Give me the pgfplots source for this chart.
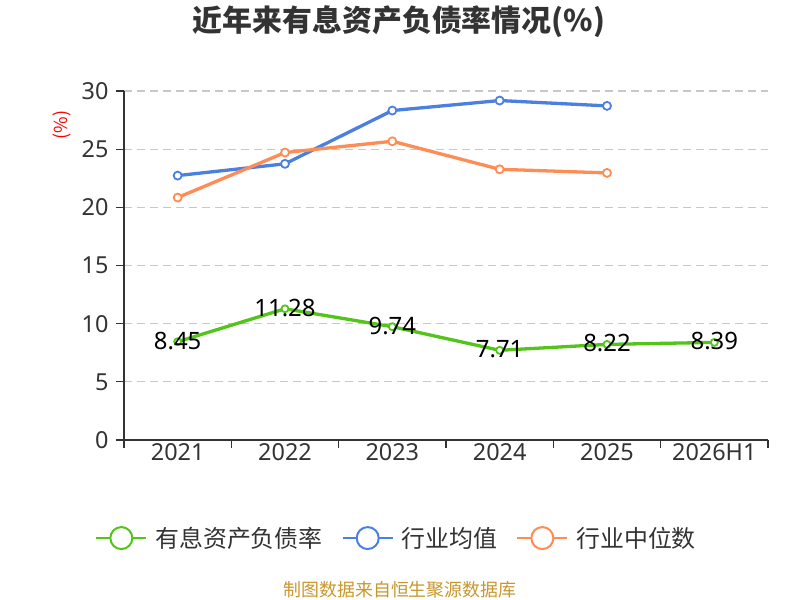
\documentclass[border=0pt]{standalone}
\usepackage{fontspec}
\usepackage{pgfplots}
\pgfplotsset{compat=1.18}
\setmainfont{Noto Sans}
\newfontfamily\cjk{Noto Sans CJK SC}
\definecolor{gline}{HTML}{52C41A}
\definecolor{bline}{HTML}{4C80E0}
\definecolor{oline}{HTML}{FF8C55}
\definecolor{axcol}{HTML}{333333}
\definecolor{txtcol}{HTML}{333333}
\definecolor{gridcol}{HTML}{C8C8C8}
\definecolor{footcol}{HTML}{C9962B}
\begin{document}
\begin{tikzpicture}
\path[use as bounding box] (0bp,0bp) rectangle (800bp,-600bp);
\node[font=\cjk\bfseries\fontsize{30}{34}\selectfont, text=txtcol] at (399bp,-22bp) {近年来有息资产负债率情况(\%)};
\node[font=\cjk\fontsize{18}{20}\selectfont, text=red, rotate=90] at (62bp,-125bp) {(\%)};
\node[font=\cjk\fontsize{18}{20}\selectfont, text=footcol] at (400bp,-590bp) {制图数据来自恒生聚源数据库};
\begin{axis}[
  at={(124bp,-440bp)}, anchor=south west,
  scale only axis, width=644bp, height=349bp,
  xmin=-0.5, xmax=5.5, ymin=0, ymax=30,
  axis x line*=bottom, axis y line*=left,
  axis line style={draw=axcol, line width=1.3bp, -},
  xtick={-0.5,0.5,1.5,2.5,3.5,4.5,5.5}, xticklabels={},
  extra x ticks={0,1,2,3,4,5},
  extra x tick labels={2021,2022,2023,2024,2025,2026H1},
  extra x tick style={major tick length=0pt, grid=none},
  ytick={0,5,10,15,20,25,30},
  tick align=outside, major tick length=8bp,
  tick style={draw=axcol, line width=1.3bp},
  ymajorgrids,
  grid style={draw=gridcol, line width=1.3bp, dash pattern=on 8bp off 5bp},
  tick label style={font=\fontsize{23.5}{26}\selectfont, text=txtcol},
  yticklabel style={xshift=-4bp},
  /pgf/number format/assume math mode=true,
  clip=false,
  legend style={at={(0.428,-0.281)}, anchor=center, legend columns=3, draw=none,
    font=\cjk\fontsize{24}{27}\selectfont, text=txtcol,
    /tikz/every even column/.style={column sep=11bp},
    nodes={inner xsep=8bp}},
  legend image code/.code={
    \draw[#1, mark=none, line width=2bp] (0bp,0bp) -- (50bp,0bp);
    \draw[#1, mark=none, fill=white, line width=2bp] (25bp,0bp) circle (11bp);
  },
]
\addplot[draw=gline, line width=3.3bp, mark=*, mark size=3.5bp,
  mark options={fill=white, draw=gline, line width=1.8bp},
  nodes near coords, point meta=explicit symbolic,
  every node near coord/.append style={anchor=center, yshift=1bp, text=black, font=\fontsize{24}{26}\selectfont}]
  coordinates {(0,8.45)[8.45] (1,11.28)[11.28] (2,9.74)[9.74] (3,7.71)[7.71] (4,8.22)[8.22] (5,8.39)[8.39]};
\addlegendentry{有息资产负债率}
\addplot[draw=bline, line width=3.3bp, mark=*, mark size=4bp,
  mark options={fill=white, draw=bline, line width=1.8bp}]
  coordinates {(0,22.73) (1,23.74) (2,28.32) (3,29.18) (4,28.72)};
\addlegendentry{行业均值}
\addplot[draw=oline, line width=3.3bp, mark=*, mark size=4bp,
  mark options={fill=white, draw=oline, line width=1.8bp}]
  coordinates {(0,20.84) (1,24.71) (2,25.68) (3,23.27) (4,22.96)};
\addlegendentry{行业中位数}
\end{axis}
\end{tikzpicture}
\end{document}
